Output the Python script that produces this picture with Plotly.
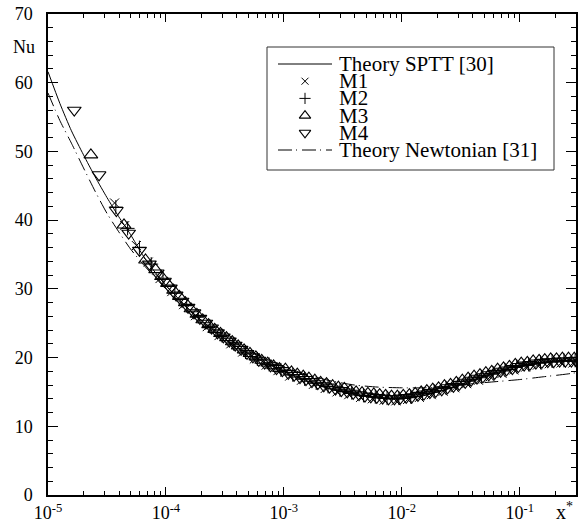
import plotly.graph_objects as go

# ---------------------------------------------------------------- data
# Theory curves (local Nusselt number vs. dimensionless axial distance x*)
theory_x = [1.0e-5, 1.26e-5, 1.58e-5, 2.0e-5, 2.51e-5, 3.16e-5, 3.98e-5, 5.01e-5,
            6.31e-5, 7.94e-5, 1.0e-4, 1.58e-4, 2.51e-4, 3.98e-4, 6.31e-4, 1.0e-3,
            1.58e-3, 2.51e-3, 3.98e-3, 6.31e-3, 1.0e-2, 1.58e-2, 2.51e-2, 3.98e-2,
            6.31e-2, 0.1, 0.158, 0.251, 0.3]
sptt_nu = [61.6, 57.0, 53.0, 49.5, 46.3, 43.3, 40.5, 37.9, 35.0, 32.6, 30.5, 27.0,
           24.0, 21.6, 19.6, 18.0, 16.6, 15.4, 14.6, 14.1, 14.0, 14.5, 15.5, 16.7,
           17.8, 18.7, 19.3, 19.6, 19.7]
newtonian_nu = [58.5, 54.5, 51.2, 47.6, 44.2, 41.0, 38.3, 35.8, 33.7, 31.8, 30.0,
                26.8, 24.2, 22.0, 20.2, 18.7, 17.5, 16.6, 16.0, 15.7, 15.6, 15.6,
                15.8, 16.2, 16.5, 16.8, 17.2, 17.6, 17.8]

# Measurements M1..M4
m1_x = [3.67e-5, 4.47e-5, 5.62e-5, 7.08e-5, 8.91e-5, 1.12e-4, 1.41e-4, 1.78e-4,
        2.24e-4, 2.82e-4, 3.55e-4, 4.47e-4, 5.62e-4, 7.08e-4, 8.91e-4, 1.12e-3,
        1.41e-3, 1.78e-3, 2.24e-3, 2.82e-3, 3.55e-3, 4.47e-3, 5.62e-3, 7.08e-3,
        8.91e-3, 1.12e-2, 1.41e-2, 1.78e-2, 2.24e-2, 2.82e-2, 3.55e-2, 4.47e-2,
        5.62e-2, 7.08e-2, 8.91e-2, 0.112, 0.141, 0.178, 0.224, 0.282]
m1_nu = [42.5, 39.2, 36.3, 33.9, 31.5, 29.6, 27.7, 26.1, 24.5, 23.2, 22.0, 20.8,
         19.8, 18.9, 18.1, 17.3, 16.7, 16.1, 15.5, 15.0, 14.6, 14.2, 14.0, 13.8,
         13.7, 13.9, 14.2, 14.6, 15.1, 15.6, 16.2, 16.7, 17.2, 17.7, 18.2, 18.6,
         18.9, 19.1, 19.2, 19.2]

m2_x = [3.76e-5, 4.73e-5, 5.96e-5, 7.50e-5, 9.44e-5, 1.19e-4, 1.50e-4, 1.88e-4,
        2.37e-4, 2.99e-4, 3.76e-4, 4.73e-4, 5.96e-4, 7.50e-4, 9.44e-4, 1.19e-3,
        1.50e-3, 1.88e-3, 2.37e-3, 2.99e-3, 3.76e-3, 4.73e-3, 5.96e-3, 7.50e-3,
        9.44e-3, 1.19e-2, 1.50e-2, 1.88e-2, 2.37e-2, 2.99e-2, 3.76e-2, 4.73e-2,
        5.96e-2, 7.50e-2, 9.44e-2, 0.119, 0.150, 0.188, 0.237, 0.295]
m2_nu = [41.9, 38.8, 36.0, 33.6, 31.4, 29.4, 27.6, 26.0, 24.5, 23.2, 22.0, 20.8,
         19.8, 19.0, 18.2, 17.5, 16.9, 16.3, 15.8, 15.3, 14.9, 14.5, 14.3, 14.1,
         14.1, 14.3, 14.7, 15.1, 15.6, 16.1, 16.7, 17.2, 17.7, 18.2, 18.7, 19.0,
         19.3, 19.5, 19.6, 19.6]

m3_x = [2.31e-5, 4.41e-5, 6.71e-5, 8.18e-5, 9.17e-5,
        1.03e-4, 1.16e-4, 1.30e-4, 1.46e-4, 1.63e-4, 1.83e-4, 2.05e-4, 2.30e-4,
        2.59e-4, 2.90e-4, 3.26e-4, 3.65e-4, 4.10e-4, 4.60e-4, 5.16e-4, 5.79e-4,
        6.49e-4, 7.29e-4, 8.18e-4, 9.17e-4,
        1.03e-3, 1.16e-3, 1.30e-3, 1.46e-3, 1.63e-3, 1.83e-3, 2.05e-3, 2.30e-3,
        2.59e-3, 2.90e-3, 3.26e-3, 3.65e-3, 4.10e-3, 4.60e-3, 5.16e-3, 5.79e-3,
        6.49e-3, 7.29e-3, 8.18e-3, 9.17e-3,
        1.03e-2, 1.16e-2, 1.30e-2, 1.46e-2, 1.63e-2, 1.83e-2, 2.05e-2, 2.30e-2,
        2.59e-2, 2.90e-2, 3.26e-2, 3.65e-2, 4.10e-2, 4.60e-2, 5.16e-2, 5.79e-2,
        6.49e-2, 7.29e-2, 8.18e-2, 9.17e-2,
        0.103, 0.116, 0.130, 0.146, 0.163, 0.183, 0.205, 0.230, 0.259, 0.290]
m3_nu = [49.5, 39.3, 34.2, 32.8, 31.8,
         30.8, 29.8, 28.9, 28.0, 27.1, 26.3, 25.5, 24.8, 24.1, 23.5, 22.9, 22.3,
         21.7, 21.1, 20.6, 20.1, 19.6, 19.2, 18.8, 18.4,
         18.3, 17.9, 17.6, 17.3, 17.0, 16.7, 16.4, 16.2, 15.9, 15.7, 15.5, 15.2,
         15.0, 14.9, 14.8, 14.7, 14.6, 14.5, 14.4, 14.4,
         14.5, 14.6, 14.8, 15.0, 15.2, 15.4, 15.6, 15.9, 16.1, 16.4, 16.7, 17.0,
         17.3, 17.5, 17.8, 18.0, 18.3, 18.5, 18.7, 19.0,
         19.2, 19.3, 19.5, 19.6, 19.7, 19.8, 19.8, 19.9, 19.9, 19.9]

m4_x = [1.67e-5, 2.71e-5, 3.80e-5, 4.83e-5, 5.97e-5, 7.24e-5, 8.43e-5, 9.72e-5,
        1.09e-4, 1.22e-4, 1.37e-4, 1.54e-4, 1.73e-4, 1.94e-4, 2.18e-4, 2.44e-4,
        2.74e-4, 3.07e-4, 3.45e-4, 3.87e-4, 4.34e-4, 4.87e-4, 5.46e-4, 6.13e-4,
        6.88e-4, 7.72e-4, 8.66e-4, 9.72e-4,
        1.09e-3, 1.22e-3, 1.37e-3, 1.54e-3, 1.73e-3, 1.94e-3, 2.18e-3, 2.44e-3,
        2.74e-3, 3.07e-3, 3.45e-3, 3.87e-3, 4.34e-3, 4.87e-3, 5.46e-3, 6.13e-3,
        6.88e-3, 7.72e-3, 8.66e-3, 9.72e-3,
        1.09e-2, 1.22e-2, 1.37e-2, 1.54e-2, 1.73e-2, 1.94e-2, 2.18e-2, 2.44e-2,
        2.74e-2, 3.07e-2, 3.45e-2, 3.87e-2, 4.34e-2, 4.87e-2, 5.46e-2, 6.13e-2,
        6.88e-2, 7.72e-2, 8.66e-2, 9.72e-2,
        0.109, 0.122, 0.137, 0.154, 0.173, 0.194, 0.218, 0.244, 0.274, 0.298]
m4_nu = [56.0, 46.6, 41.4, 38.1, 35.6, 33.6, 32.3, 31.1,
         30.1, 29.1, 28.2, 27.3, 26.5, 25.7, 25.0, 24.3, 23.6, 23.0, 22.4, 21.8,
         21.2, 20.6, 20.1, 19.6, 19.2, 18.8, 18.4, 18.1,
         17.7, 17.4, 17.1, 16.8, 16.5, 16.2, 15.9, 15.7, 15.4, 15.2, 15.0, 14.8,
         14.6, 14.4, 14.3, 14.2, 14.1, 14.0, 14.0, 14.1,
         14.2, 14.3, 14.5, 14.7, 14.9, 15.1, 15.3, 15.6, 15.8, 16.1, 16.4, 16.7,
         17.0, 17.2, 17.5, 17.7, 18.0, 18.2, 18.4, 18.7,
         18.9, 19.0, 19.2, 19.3, 19.4, 19.4, 19.5, 19.5, 19.5, 19.6]

x_tick_vals = [1e-5, 1e-4, 1e-3, 1e-2, 1e-1]
x_tick_text = ["10<sup>-5</sup>", "10<sup>-4</sup>", "10<sup>-3</sup>",
               "10<sup>-2</sup>", "10<sup>-1</sup>"]
y_tick_vals = [0, 10, 20, 30, 40, 50, 60, 70]

legend_labels = ["Theory SPTT [30]", "M1", "M2", "M3", "M4",
                 "Theory Newtonian [31]"]

# ---------------------------------------------------------------- style
W, H = 580, 526
M_L, M_R, M_T, M_B = 48, 4, 14, 31
FONT = "Liberation Serif, Times New Roman, serif"
INK = "black"
NEWT_DASH = "14px,4px,1px,5px"

series = [
    (m1_x, m1_nu, dict(symbol="x-thin", size=9, line=dict(width=1, color=INK))),
    (m2_x, m2_nu, dict(symbol="cross-thin", size=10, line=dict(width=1, color=INK))),
    (m3_x, m3_nu, dict(symbol="triangle-up-open", size=12, color=INK,
                       line=dict(width=1.1))),
    (m4_x, m4_nu, dict(symbol="triangle-down-open", size=12, color=INK,
                       line=dict(width=1.1))),
]

fig = go.Figure()

fig.add_trace(go.Scatter(x=theory_x, y=newtonian_nu, mode="lines",
                         line=dict(color=INK, width=1, dash=NEWT_DASH, shape="spline",
                                   smoothing=0.6),
                         name=legend_labels[5], showlegend=False))
fig.add_trace(go.Scatter(x=theory_x, y=sptt_nu, mode="lines",
                         line=dict(color=INK, width=1, shape="spline", smoothing=0.6),
                         name=legend_labels[0], showlegend=False))
for (sx, sy, mk), lab in zip(series, legend_labels[1:5]):
    fig.add_trace(go.Scatter(x=sx, y=sy, mode="markers", marker=mk, name=lab,
                             showlegend=False))

# ---------------------------------------------------------------- legend box
plot_w = W - M_L - M_R
plot_h = H - M_T - M_B


def px_x(p):
    return (p - M_L) / plot_w


def px_y(p):
    return (H - M_B - p) / plot_h


box = dict(x0=267, x1=554, y0=47, y1=170)
row_y = [64, 81.2, 98.4, 115.6, 132.8, 150]
sample_x0, sample_x1, sample_mid, text_x = 278, 332, 305, 337

shapes = [dict(type="rect", xref="paper", yref="paper",
               x0=px_x(box["x0"]), x1=px_x(box["x1"]),
               y0=px_y(box["y1"]), y1=px_y(box["y0"]),
               line=dict(color="#333333", width=1), fillcolor="rgba(0,0,0,0)")]
shapes.append(dict(type="line", xref="paper", yref="paper",
                   x0=px_x(sample_x0), x1=px_x(sample_x1),
                   y0=px_y(row_y[0]), y1=px_y(row_y[0]),
                   line=dict(color=INK, width=1)))
shapes.append(dict(type="line", xref="paper", yref="paper",
                   x0=px_x(sample_x0), x1=px_x(sample_x1),
                   y0=px_y(row_y[5]), y1=px_y(row_y[5]),
                   line=dict(color=INK, width=1, dash=NEWT_DASH)))

# legend marker samples on an overlay axis spanning the plot area (0..1)
for (sx, sy, mk), ry in zip(series, row_y[1:5]):
    small = dict(mk, size=mk["size"] - 2)
    fig.add_trace(go.Scatter(x=[px_x(sample_mid)], y=[px_y(ry)], mode="markers",
                             marker=small, xaxis="x2", yaxis="y2", showlegend=False,
                             hoverinfo="skip", cliponaxis=False))

annotations = []
for lab, ry in zip(legend_labels, row_y):
    annotations.append(dict(xref="paper", yref="paper", x=px_x(text_x), y=px_y(ry),
                            text=lab, showarrow=False, xanchor="left",
                            yanchor="middle", font=dict(family=FONT, size=21, color=INK)))

annotations.append(dict(xref="paper", yref="paper", x=px_x(37), y=px_y(47),
                        text="Nu", showarrow=False, xanchor="right", yanchor="middle",
                        font=dict(family=FONT, size=18, color=INK)))
annotations.append(dict(xref="paper", yref="paper", x=px_x(564), y=px_y(525),
                        text="x<sup>*</sup>", showarrow=False, xanchor="center",
                        yanchor="bottom", font=dict(family=FONT, size=20, color=INK)))

axis_common = dict(showline=True, linecolor=INK, linewidth=1.5, mirror="ticks",
                   ticks="inside", tickcolor=INK, tickwidth=1, showgrid=False,
                   zeroline=False, automargin=False,
                   tickfont=dict(family=FONT, size=18, color=INK))

fig.update_layout(
    width=W, height=H,
    margin=dict(l=M_L, r=M_R, t=M_T, b=M_B, pad=0),
    paper_bgcolor="white", plot_bgcolor="white",
    showlegend=False,
    xaxis=dict(type="log", range=[-5, -0.5229], tickvals=x_tick_vals,
               ticktext=x_tick_text, ticklen=8, ticklabelstandoff=1,
               minor=dict(ticks="inside", ticklen=4, tickcolor=INK, tickwidth=1,
                          dtick="D1", showgrid=False),
               **axis_common),
    yaxis=dict(range=[0, 70], tickvals=y_tick_vals, ticklen=10, ticklabelstandoff=10,
               minor=dict(ticks="inside", ticklen=5, tickcolor=INK, tickwidth=1,
                          dtick=2, showgrid=False),
               **axis_common),
    xaxis2=dict(overlaying="x", range=[0, 1], visible=False, fixedrange=True),
    yaxis2=dict(overlaying="y", range=[0, 1], visible=False, fixedrange=True),
    shapes=shapes,
    annotations=annotations,
)

fig.write_html("out.html")
